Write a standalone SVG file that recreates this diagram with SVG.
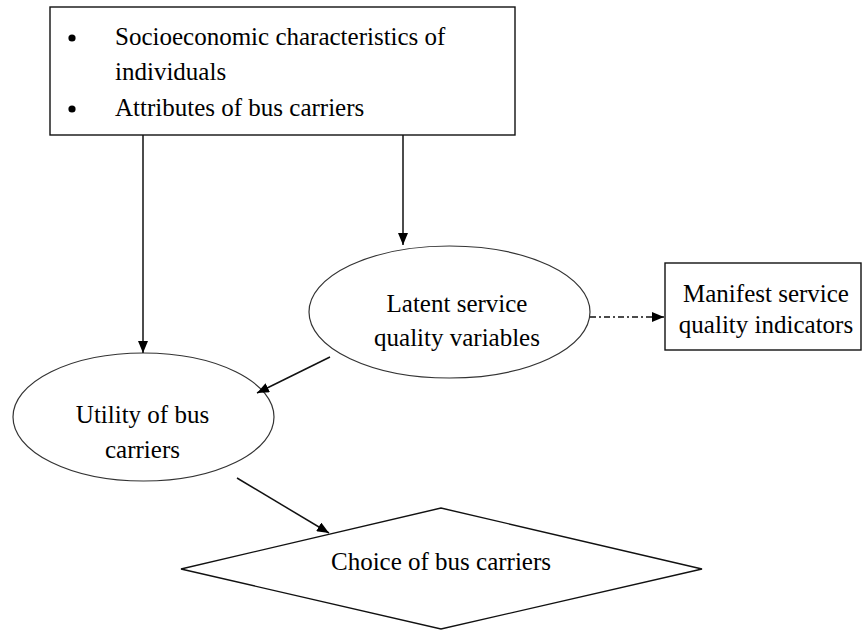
<svg xmlns="http://www.w3.org/2000/svg" width="862" height="631" viewBox="0 0 862 631">
<style>
text{font-family:"Liberation Serif","Times New Roman",serif;font-size:25px;fill:#000}
.c{text-anchor:middle}
.shape{fill:#fff;stroke:#111;stroke-width:1.4}
.ell{fill:#fff;stroke:#333;stroke-width:1.2}
.conn{stroke:#111;stroke-width:1.5;fill:none}
</style>
<defs>
<marker id="ah" viewBox="0 0 12 10" refX="12" refY="5" markerWidth="12" markerHeight="10" markerUnits="userSpaceOnUse" orient="auto">
<path d="M0,0 L12,5 L0,10 Z" fill="#000"/>
</marker>
</defs>
<rect width="862" height="631" fill="#fff"/>
<g id="n-inputs">
<rect class="shape" x="50" y="7" width="465" height="128"/>
<circle cx="72" cy="38" r="3.6" fill="#000"/>
<circle cx="72" cy="109" r="3.6" fill="#000"/>
<text x="115" y="45">Socioeconomic characteristics of</text>
<text x="115" y="80">individuals</text>
<text x="115" y="116">Attributes of bus carriers</text>
</g>
<g id="n-latent">
<ellipse class="ell" cx="449.5" cy="312" rx="140.5" ry="66"/>
<text class="c" x="457" y="312">Latent service</text>
<text class="c" x="457" y="346">quality variables</text>
</g>
<g id="n-manifest">
<rect class="shape" x="665" y="263" width="196" height="87"/>
<text class="c" x="766" y="302">Manifest service</text>
<text class="c" x="766" y="333">quality indicators</text>
</g>
<g id="n-utility">
<ellipse class="ell" cx="143.5" cy="417" rx="130.5" ry="64"/>
<text class="c" x="142.5" y="423">Utility of bus</text>
<text class="c" x="142.5" y="458">carriers</text>
</g>
<g id="n-choice">
<polygon class="shape" points="181,569 441,508 702,569 441,629"/>
<text class="c" x="441" y="570">Choice of bus carriers</text>
</g>
<g id="connectors">
<line class="conn" x1="143" y1="135" x2="143" y2="353" marker-end="url(#ah)"/>
<line class="conn" x1="403" y1="135" x2="403" y2="245" marker-end="url(#ah)"/>
<line class="conn" x1="590" y1="317" x2="664" y2="317" stroke-dasharray="6 3 2 3" marker-end="url(#ah)"/>
<line class="conn" x1="330" y1="357" x2="257" y2="393" marker-end="url(#ah)"/>
<line class="conn" x1="237" y1="478" x2="329" y2="533" marker-end="url(#ah)"/>
</g>
</svg>
